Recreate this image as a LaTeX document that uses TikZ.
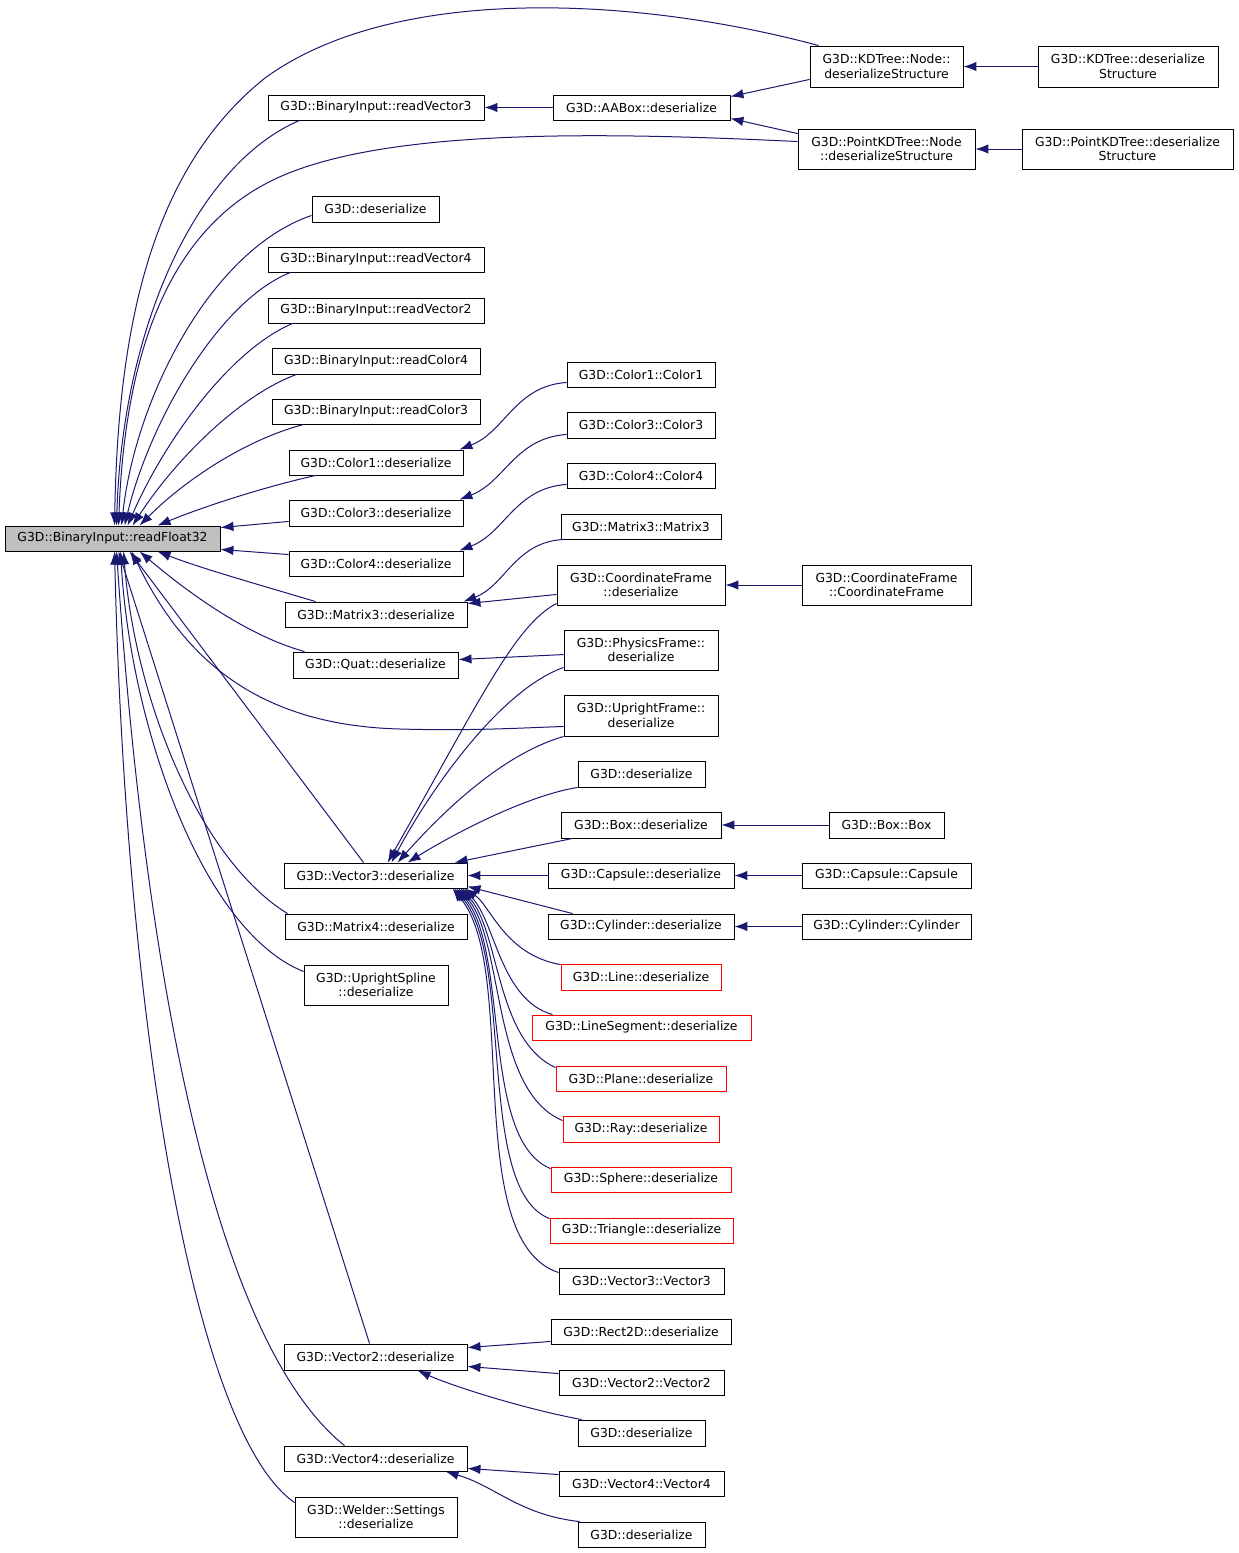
\documentclass[tikz,border=0pt]{standalone}
\usepackage{fontspec}
\setmainfont{DejaVu Sans}
\usetikzlibrary{arrows.meta}
\definecolor{edgeblue}{HTML}{191970}
\definecolor{graybg}{HTML}{BFBFBF}
\definecolor{redbox}{HTML}{FF0000}
\newcommand{\gnode}[7][]{\node[box,#1,minimum width={#5-#3},minimum height={#6-#4}] (#2) at ({(#3+#5)/2},{(#4+#6)/2}) {#7};}
\begin{document}
\begin{tikzpicture}[x=1pt,y=-1pt,
  box/.style={draw=black,line width=0.9pt,inner sep=0pt,align=center,font=\fontsize{12.4}{14.5}\selectfont,text=black},
  conn/.style={draw=edgeblue,line width=1pt,{Latex[length=13pt,width=9.5pt]}-}]
\useasboundingbox (0,0) rectangle (1239,1553);
% nodes
\gnode[fill=graybg]{rf}{5}{526}{220}{551}{G3D::BinaryInput::readFloat32}
\gnode{rv3}{268}{95}{484}{120}{G3D::BinaryInput::readVector3}
\gnode{ab}{553}{95}{730}{120}{G3D::AABox::deserialize}
\gnode{kdn}{810}{46}{963}{87}{G3D::KDTree::Node::\\deserializeStructure}
\gnode{kds}{1038}{46}{1218}{87}{G3D::KDTree::deserialize\\Structure}
\gnode{pkd}{798}{129}{975}{169}{G3D::PointKDTree::Node\\::deserializeStructure}
\gnode{pkds}{1022}{129}{1233}{169}{G3D::PointKDTree::deserialize\\Structure}
\gnode{d1}{312}{196}{439}{222}{G3D::deserialize}
\gnode{rv4}{268}{247}{484}{272}{G3D::BinaryInput::readVector4}
\gnode{rv2}{268}{298}{484}{323}{G3D::BinaryInput::readVector2}
\gnode{rc4}{272}{348}{480}{374}{G3D::BinaryInput::readColor4}
\gnode{rc3}{272}{399}{480}{424}{G3D::BinaryInput::readColor3}
\gnode{c1c}{567}{362}{715}{387}{G3D::Color1::Color1}
\gnode{c1d}{289}{450}{463}{475}{G3D::Color1::deserialize}
\gnode{c3c}{567}{412}{715}{438}{G3D::Color3::Color3}
\gnode{c3d}{289}{500}{463}{526}{G3D::Color3::deserialize}
\gnode{c4c}{567}{463}{715}{488}{G3D::Color4::Color4}
\gnode{c4d}{289}{551}{463}{576}{G3D::Color4::deserialize}
\gnode{m3c}{561}{514}{721}{539}{G3D::Matrix3::Matrix3}
\gnode{m3d}{285}{602}{467}{627}{G3D::Matrix3::deserialize}
\gnode{cfd}{557}{565}{725}{605}{G3D::CoordinateFrame\\::deserialize}
\gnode{cfc}{802}{565}{971}{605}{G3D::CoordinateFrame\\::CoordinateFrame}
\gnode{qd}{293}{652}{458}{678}{G3D::Quat::deserialize}
\gnode{pfd}{564}{630}{718}{670}{G3D::PhysicsFrame::\\deserialize}
\gnode{ufd}{564}{695}{718}{736}{G3D::UprightFrame::\\deserialize}
\gnode{d2}{578}{761}{705}{787}{G3D::deserialize}
\gnode{bd}{561}{812}{721}{838}{G3D::Box::deserialize}
\gnode{bb}{829}{812}{944}{838}{G3D::Box::Box}
\gnode{v3d}{284}{863}{467}{888}{G3D::Vector3::deserialize}
\gnode{cd}{548}{863}{734}{888}{G3D::Capsule::deserialize}
\gnode{cc}{802}{863}{971}{888}{G3D::Capsule::Capsule}
\gnode{m4d}{285}{914}{467}{939}{G3D::Matrix4::deserialize}
\gnode{cyd}{548}{914}{734}{939}{G3D::Cylinder::deserialize}
\gnode{cyc}{802}{914}{971}{939}{G3D::Cylinder::Cylinder}
\gnode[draw=redbox]{ld}{561}{964}{721}{990}{G3D::Line::deserialize}
\gnode{usd}{304}{965}{448}{1005}{G3D::UprightSpline\\::deserialize}
\gnode[draw=redbox]{lsd}{532}{1015}{751}{1040}{G3D::LineSegment::deserialize}
\gnode[draw=redbox]{pd}{556}{1066}{726}{1091}{G3D::Plane::deserialize}
\gnode[draw=redbox]{rd}{563}{1116}{719}{1142}{G3D::Ray::deserialize}
\gnode[draw=redbox]{sd}{551}{1167}{731}{1192}{G3D::Sphere::deserialize}
\gnode[draw=redbox]{td}{550}{1218}{733}{1243}{G3D::Triangle::deserialize}
\gnode{v3c}{559}{1268}{724}{1294}{G3D::Vector3::Vector3}
\gnode{r2d}{551}{1319}{731}{1344}{G3D::Rect2D::deserialize}
\gnode{v2d}{284}{1344}{467}{1370}{G3D::Vector2::deserialize}
\gnode{v2c}{559}{1370}{724}{1395}{G3D::Vector2::Vector2}
\gnode{d3}{578}{1420}{705}{1446}{G3D::deserialize}
\gnode{v4d}{284}{1446}{467}{1471}{G3D::Vector4::deserialize}
\gnode{v4c}{559}{1471}{724}{1496}{G3D::Vector4::Vector4}
\gnode{wsd}{295}{1497}{457}{1537}{G3D::Welder::Settings\\::deserialize}
\gnode{d4}{578}{1522}{705}{1547}{G3D::deserialize}
% edges into readFloat32 from above
\draw[conn] ([xshift=110pt]rf.north west) .. controls (118,330) and (150,170) .. (265,78) .. controls (400,-20) and (650,0) .. ([xshift=9pt]kdn.north west);
\draw[conn] ([xshift=112pt]rf.north west) .. controls (122,330) and (195,165) .. ([xshift=32pt]rv3.south west);
\draw[conn] ([xshift=114pt]rf.north west) .. controls (125,350) and (170,230) .. (273,180) .. controls (380,128) and (600,132) .. ([yshift=-13pt]pkd.north west);
\draw[conn] ([xshift=117pt]rf.north west) .. controls (135,400) and (210,250) .. ([yshift=7pt]d1.south west);
\draw[conn] ([xshift=120pt]rf.north west) .. controls (150,420) and (220,300) .. ([xshift=23pt]rv4.south west);
\draw[conn] ([xshift=123pt]rf.north west) .. controls (165,440) and (230,350) .. ([xshift=25pt]rv2.south west);
\draw[conn] ([xshift=128pt]rf.north west) .. controls (175,460) and (240,395) .. ([xshift=25pt]rc4.south west);
\draw[conn] ([xshift=135pt]rf.north west) .. controls (185,480) and (245,440) .. ([xshift=32pt]rc3.south west);
\draw[conn] ([xshift=153pt]rf.north west) .. controls (200,508) and (260,488) .. ([xshift=27pt]c1d.south west);
\draw[conn] ([yshift=-2pt]rf.north east) -- ([yshift=5pt]c3d.south west);
\draw[conn] ([yshift=2pt]rf.south east) -- ([yshift=-4pt]c4d.north west);
% edges into readFloat32 from below
\draw[conn] ([xshift=153pt]rf.south west) .. controls (200,568) and (260,585) .. ([xshift=31pt]m3d.north west);
\draw[conn] ([xshift=135pt]rf.south west) .. controls (185,590) and (245,635) .. ([xshift=12pt]qd.north west);
\draw[conn] ([xshift=127pt]rf.south west) .. controls (175,640) and (240,725) .. (400,729) .. controls (470,731) and (520,728) .. ([yshift=10pt]ufd.south west);
\draw[conn] ([xshift=125pt]rf.south west) -- ([xshift=80pt]v3d.north west);
\draw[conn] ([xshift=119pt]rf.south west) .. controls (135,700) and (200,860) .. ([xshift=3pt]m4d.north west);
\draw[conn] ([xshift=116pt]rf.south west) .. controls (130,720) and (200,930) .. ([yshift=-7pt]usd.north west);
\draw[conn] ([xshift=114pt]rf.south west) -- ([xshift=86pt]v2d.north west);
\draw[conn] ([xshift=112pt]rf.south west) .. controls (140,900) and (200,1330) .. ([xshift=61pt]v4d.north west);
\draw[conn] ([xshift=110pt]rf.south west) .. controls (125,1000) and (190,1430) .. ([yshift=-6pt]wsd.north west);
% top right
\draw[conn] (rv3.east) -- (ab.west);
\draw[conn] ([yshift=-2pt]ab.north east) -- ([yshift=8pt]kdn.south west);
\draw[conn] ([yshift=2pt]ab.south east) -- ([yshift=-5pt]pkd.north west);
\draw[conn] (kdn.east) -- (kds.west);
\draw[conn] (pkd.east) -- (pkds.west);
% colors / matrix
\draw[conn] ([xshift=-4pt]c1d.north east) .. controls (505,432) and (515,386) .. ([yshift=5pt]c1c.south west);
\draw[conn] ([xshift=-4pt]c3d.north east) .. controls (505,482) and (515,438) .. ([yshift=4pt]c3c.south west);
\draw[conn] ([xshift=-4pt]c4d.north east) .. controls (505,533) and (515,488) .. ([yshift=4pt]c4c.south west);
\draw[conn] ([xshift=-4pt]m3d.north east) .. controls (505,586) and (515,542) .. ([xshift=3pt]m3c.south west);
\draw[conn] ([yshift=-2pt]m3d.north east) -- ([yshift=11pt]cfd.south west);
\draw[conn] (cfd.east) -- (cfc.west);
\draw[conn] ([yshift=-8pt]qd.north east) -- ([yshift=-25pt]pfd.north west);
% into Vector3::deserialize
\draw[conn] ([xshift=104pt]v3d.north west) .. controls (480,700) and (515,625) .. ([yshift=2pt]cfd.south west);
\draw[conn] ([xshift=108pt]v3d.north west) .. controls (430,790) and (500,690) .. ([yshift=3pt]pfd.south west);
\draw[conn] ([xshift=114pt]v3d.north west) .. controls (440,815) and (500,755) .. (ufd.south west);
\draw[conn] ([xshift=124pt]v3d.north west) .. controls (460,830) and (530,795) .. (d2.south west);
\draw[conn] ([xshift=171pt]v3d.north west) -- ([xshift=12pt]bd.south west);
\draw[conn] (bd.east) -- (bb.west);
\draw[conn] (v3d.east) -- (cd.west);
\draw[conn] (cd.east) -- (cc.west);
\draw[conn] ([yshift=2pt]v3d.south east) -- ([xshift=25pt]cyd.north west);
\draw[conn] (cyd.east) -- (cyc.west);
\draw[conn] ([xshift=-3pt]v3d.south east) .. controls (490,905) and (505,955) .. ([yshift=-1pt]ld.north west);
\draw[conn] ([xshift=-5pt]v3d.south east) .. controls (495,920) and (500,1000) .. ([xshift=21pt]lsd.north west);
\draw[conn] ([xshift=-7pt]v3d.south east) .. controls (500,930) and (495,1040) .. ([yshift=-2pt]pd.north west);
\draw[conn] ([xshift=-9pt]v3d.south east) .. controls (505,940) and (490,1090) .. ([yshift=-5pt]rd.north west);
\draw[conn] ([xshift=-11pt]v3d.south east) .. controls (510,950) and (480,1140) .. ([yshift=-2pt]sd.north west);
\draw[conn] ([xshift=-13pt]v3d.south east) .. controls (515,960) and (475,1190) .. ([yshift=-1pt]td.north west);
\draw[conn] ([xshift=-15pt]v3d.south east) .. controls (520,970) and (460,1240) .. ([yshift=-5pt]v3c.north west);
% Vector2 / Vector4
\draw[conn] ([yshift=-4pt]v2d.north east) -- ([yshift=3pt]r2d.south west);
\draw[conn] ([yshift=4pt]v2d.south east) -- ([yshift=-4pt]v2c.north west);
\draw[conn] ([xshift=134pt]v2d.south west) .. controls (450,1385) and (520,1408) .. ([xshift=4pt]d3.north west);
\draw[conn] ([yshift=3pt]v4d.south east) -- ([yshift=-4pt]v4c.north west);
\draw[conn] ([xshift=162pt]v4d.south west) .. controls (495,1486) and (520,1515) .. ([xshift=2pt]d4.north west);
\end{tikzpicture}
\end{document}
